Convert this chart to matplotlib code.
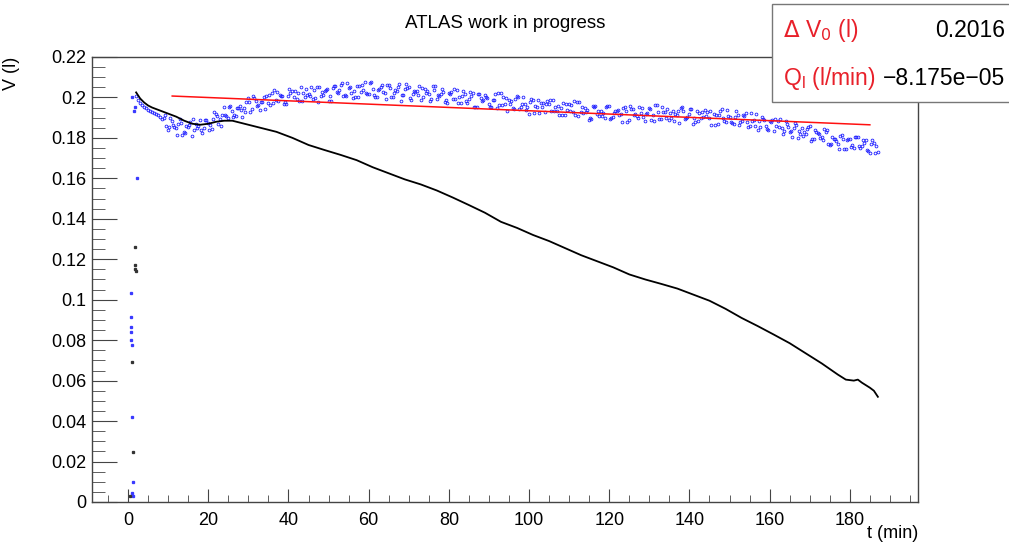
import numpy as np
import matplotlib.pyplot as plt
from matplotlib.patches import Rectangle
from matplotlib.ticker import MultipleLocator, FuncFormatter

# black curve (t in min, V in l)
black_t = [2, 3, 4, 5, 6, 8, 10, 12, 14, 16, 18, 20, 22, 24, 26, 28, 30, 33, 37, 41,
           45, 49, 53, 57, 61, 65, 69, 73, 77, 81, 85, 89, 93, 97, 101, 105, 109, 113,
           117, 121, 125, 129, 133, 137, 141, 145, 149, 153, 157, 161, 165, 169, 173,
           177, 179, 181, 182, 183, 185, 186, 187]
black_v = [0.2025, 0.1995, 0.1975, 0.1960, 0.1950, 0.1935, 0.1920, 0.1905, 0.1885,
           0.1870, 0.1865, 0.1870, 0.1880, 0.1885, 0.1885, 0.1875, 0.1865, 0.1850,
           0.1830, 0.1800, 0.1765, 0.1740, 0.1716, 0.1690, 0.1655, 0.1625, 0.1595,
           0.1570, 0.1540, 0.1505, 0.1468, 0.1430, 0.1385, 0.1355, 0.1320, 0.1290,
           0.1255, 0.1220, 0.1190, 0.1160, 0.1125, 0.1100, 0.1078, 0.1055, 0.1025,
           0.0995, 0.0955, 0.0910, 0.0870, 0.0828, 0.0785, 0.0735, 0.0685, 0.0630,
           0.0605, 0.0600, 0.0605, 0.0590, 0.0565, 0.0550, 0.0520]

# blue measurements, first smooth part
blue_early_t = [2.0, 2.5, 3.0, 3.5, 4.0, 4.5, 5.0, 5.5, 6.0, 6.5, 7.0, 7.5, 8.0, 8.5]
blue_early_v = [0.2005, 0.1985, 0.1972, 0.1962, 0.1953, 0.1946, 0.1940, 0.1934,
                0.1928, 0.1922, 0.1917, 0.1912, 0.1905, 0.1895]

# blue measurements, t = 9 ... 187 (1 min steps)
blue_a = [
    0.1897, 0.1840, 0.1885, 0.1847, 0.1893, 0.1829, 0.1855, 0.1809, 0.1871, 0.1888,
    0.1847, 0.1872, 0.1844, 0.1917, 0.1893, 0.1951, 0.1896, 0.1934, 0.1907, 0.1959,
    0.1950, 0.1998, 0.1941, 0.1981, 0.1936, 0.2001, 0.1973, 0.2020, 0.1987, 0.2014,
    0.1968, 0.2009, 0.2033, 0.1991, 0.2053, 0.2003, 0.2016, 0.1990, 0.2054, 0.2007,
    0.2031, 0.1981, 0.2046, 0.2027, 0.2060, 0.2012, 0.2048, 0.1998, 0.2059, 0.2029,
    0.2074, 0.2019, 0.2041, 0.2002, 0.2054, 0.2020, 0.2064, 0.2004, 0.2031, 0.1984,
    0.2043, 0.2053, 0.2015, 0.2033, 0.1987, 0.2044, 0.2019, 0.2058, 0.1994, 0.2017,
    0.1979, 0.2020, 0.1990, 0.2038, 0.1973, 0.2017, 0.1991, 0.2024, 0.1953, 0.1998,
    0.2012, 0.1968, 0.1985, 0.1949, 0.2022, 0.1969, 0.1989, 0.1949, 0.2005, 0.1951,
    0.1968, 0.1920, 0.1986, 0.1955, 0.1975, 0.1928, 0.1966, 0.1986, 0.1932, 0.1950,
    0.1913, 0.1967, 0.1930, 0.1977, 0.1930, 0.1949, 0.1888, 0.1957, 0.1916, 0.1931,
    0.1897, 0.1960, 0.1902, 0.1933, 0.1918, 0.1952, 0.1890, 0.1941, 0.1906, 0.1924,
    0.1884, 0.1946, 0.1912, 0.1962, 0.1895, 0.1926, 0.1888, 0.1931, 0.1912, 0.1947,
    0.1895, 0.1918, 0.1870, 0.1931, 0.1896, 0.1936, 0.1900, 0.1919, 0.1870, 0.1943,
    0.1881, 0.1903, 0.1871, 0.1913, 0.1882, 0.1925, 0.1861, 0.1888, 0.1838, 0.1904,
    0.1860, 0.1882, 0.1834, 0.1884, 0.1851, 0.1884, 0.1828, 0.1849, 0.1798, 0.1850,
    0.1817, 0.1859, 0.1794, 0.1824, 0.1803, 0.1827, 0.1766, 0.1796, 0.1772, 0.1814,
    0.1744, 0.1793, 0.1751, 0.1804, 0.1759, 0.1792, 0.1727, 0.1775, 0.1732]

# blue measurements, t = 9.25 ... 186.25 (1 min steps)
blue_c = [
    0.1911, 0.1854, 0.1865, 0.1816, 0.1873, 0.1823, 0.1863, 0.1891, 0.1848, 0.1838,
    0.1890, 0.1839, 0.1891, 0.1910, 0.1858, 0.1912, 0.1952, 0.1905, 0.1948, 0.1939,
    0.1926, 0.1977, 0.2008, 0.1959, 0.1977, 0.1945, 0.2010, 0.1974, 0.2028, 0.2006,
    0.1977, 0.2043, 0.2004, 0.2023, 0.1980, 0.2041, 0.2005, 0.2037, 0.1979, 0.2026,
    0.2035, 0.2005, 0.2058, 0.2023, 0.2070, 0.2005, 0.2052, 0.2034, 0.2001, 0.2060,
    0.2024, 0.2071, 0.2011, 0.2037, 0.2061, 0.1992, 0.2045, 0.2022, 0.2050, 0.2011,
    0.2067, 0.1995, 0.2032, 0.2010, 0.2049, 0.2023, 0.1983, 0.2036, 0.2010, 0.2044,
    0.1987, 0.2015, 0.2040, 0.1975, 0.2005, 0.1982, 0.2025, 0.1952, 0.2015, 0.1980,
    0.2001, 0.1953, 0.1986, 0.2020, 0.1961, 0.1998, 0.1969, 0.1944, 0.2004, 0.1967,
    0.1939, 0.1977, 0.1921, 0.1986, 0.1955, 0.1967, 0.1989, 0.1933, 0.1958, 0.1914,
    0.1970, 0.1933, 0.1982, 0.1910, 0.1952, 0.1928, 0.1897, 0.1954, 0.1935, 0.1907,
    0.1953, 0.1893, 0.1924, 0.1939, 0.1880, 0.1933, 0.1956, 0.1912, 0.1899, 0.1948,
    0.1917, 0.1942, 0.1884, 0.1928, 0.1955, 0.1900, 0.1921, 0.1884, 0.1931, 0.1954,
    0.1897, 0.1943, 0.1900, 0.1883, 0.1927, 0.1907, 0.1932, 0.1865, 0.1915, 0.1896,
    0.1936, 0.1881, 0.1905, 0.1862, 0.1915, 0.1877, 0.1925, 0.1859, 0.1882, 0.1892,
    0.1845, 0.1881, 0.1894, 0.1856, 0.1818, 0.1871, 0.1832, 0.1874, 0.1834, 0.1808,
    0.1843, 0.1786, 0.1841, 0.1817, 0.1790, 0.1838, 0.1770, 0.1793, 0.1746, 0.1796,
    0.1788, 0.1757, 0.1803, 0.1759, 0.1791, 0.1740, 0.1770, 0.1727]

# blue measurements, t = 9.5 ... 186.5 (1 min steps)
blue_b = [
    0.1857, 0.1899, 0.1852, 0.1871, 0.1812, 0.1859, 0.1878, 0.1839, 0.1857, 0.1826,
    0.1890, 0.1866, 0.1926, 0.1867, 0.1914, 0.1909, 0.1956, 0.1912, 0.1947, 0.1905,
    0.1976, 0.1928, 0.1998, 0.1962, 0.1979, 0.2009, 0.1965, 0.2035, 0.1981, 0.2006,
    0.1966, 0.2020, 0.2030, 0.1981, 0.2022, 0.2010, 0.2054, 0.1998, 0.2051, 0.2014,
    0.2040, 0.1984, 0.2055, 0.2035, 0.2008, 0.2069, 0.2023, 0.2004, 0.2055, 0.2037,
    0.2018, 0.2075, 0.2001, 0.2044, 0.2027, 0.2060, 0.2004, 0.2037, 0.2065, 0.2013,
    0.2047, 0.1986, 0.2027, 0.2055, 0.2003, 0.2034, 0.1991, 0.2058, 0.2006, 0.2028,
    0.1971, 0.2029, 0.1992, 0.2004, 0.2031, 0.1974, 0.2009, 0.1951, 0.2018, 0.1987,
    0.1995, 0.1954, 0.2018, 0.1964, 0.2001, 0.1933, 0.1980, 0.1990, 0.1943, 0.2004,
    0.1951, 0.1990, 0.1956, 0.1924, 0.1971, 0.1983, 0.1934, 0.1953, 0.1912, 0.1972,
    0.1940, 0.1961, 0.1912, 0.1979, 0.1922, 0.1940, 0.1894, 0.1958, 0.1907, 0.1925,
    0.1958, 0.1896, 0.1932, 0.1911, 0.1946, 0.1880, 0.1941, 0.1916, 0.1954, 0.1905,
    0.1925, 0.1887, 0.1961, 0.1895, 0.1926, 0.1944, 0.1898, 0.1916, 0.1875, 0.1931,
    0.1902, 0.1944, 0.1881, 0.1922, 0.1905, 0.1929, 0.1862, 0.1914, 0.1934, 0.1882,
    0.1907, 0.1872, 0.1933, 0.1880, 0.1907, 0.1853, 0.1885, 0.1920, 0.1856, 0.1887,
    0.1841, 0.1890, 0.1857, 0.1893, 0.1835, 0.1856, 0.1803, 0.1865, 0.1818, 0.1831,
    0.1853, 0.1794, 0.1828, 0.1800, 0.1844, 0.1769, 0.1804, 0.1787, 0.1810, 0.1745,
    0.1797, 0.1764, 0.1805, 0.1752, 0.1774, 0.1735, 0.1791, 0.1758]

# stray points at the start of the run
stray_blue_t = [1.0, 1.5, 1.6, 0.8, 0.6, 0.7, 0.6, 0.8, 0.9, 1.0, 1.1, 0.9, 1.2, 2.2]
stray_blue_v = [0.2000, 0.1935, 0.1955, 0.1033, 0.0915, 0.0865, 0.0840, 0.0800,
                0.0776, 0.0420, 0.0099, 0.0044, 0.0030, 0.1602]
stray_black_t = [1.6, 1.8, 2.0, 1.7, 1.0, 0.5, 1.2]
stray_black_v = [0.1170, 0.1150, 0.1140, 0.1261, 0.0692, 0.0030, 0.0247]

# linear fit shown in the box
fit_v0 = 0.2016
fit_q = -8.175e-05
fit_range = [11, 185]

plt.rcParams['font.family'] = ['Liberation Sans', 'DejaVu Sans']
fig = plt.figure(figsize=(10.09, 5.47), dpi=100)
ax = fig.add_axes([0.0912, 0.0823, 0.8186, 0.8135])

blue = '#2020ff'
mk = dict(ls='none', marker='o', ms=2.0, mfc='none', mec=blue, mew=0.6)
ax.plot(blue_early_t, blue_early_v, **mk)
ax.plot(np.arange(9, 188), blue_a, **mk)
ax.plot(np.arange(9.25, 187), blue_c, **mk)
ax.plot(np.arange(9.5, 187), blue_b, **mk)
ax.plot(stray_blue_t, stray_blue_v, 's', ms=1.4, color='#3a3aff', lw=0)
ax.plot(stray_black_t, stray_black_v, 's', ms=1.4, color='#333333', lw=0)
ax.plot(black_t, black_v, color='black', lw=1.3)

fit_t = np.array(fit_range)
ax.plot(fit_t, fit_v0 + fit_q * fit_t, color='#ff1010', lw=1.1)

ax.set_xlim(-9, 197)
ax.set_ylim(0, 0.22)
ax.xaxis.set_major_locator(MultipleLocator(20))
ax.xaxis.set_minor_locator(MultipleLocator(5))
ax.yaxis.set_major_locator(MultipleLocator(0.02))
ax.yaxis.set_minor_locator(MultipleLocator(0.005))
ax.yaxis.set_major_formatter(FuncFormatter(lambda v, p: '%g' % round(v, 3)))
ax.tick_params(axis='both', which='both', direction='in', color='#444444',
               labelsize=13, top=False, right=False)
ax.tick_params(axis='y', which='major', length=18, pad=4)
ax.tick_params(axis='y', which='minor', length=9)
ax.tick_params(axis='x', which='major', length=9.5, pad=7)
ax.tick_params(axis='x', which='minor', length=4.8)
for s in ax.spines.values():
    s.set_color('#444444')
    s.set_linewidth(1.0)

ax.set_title('ATLAS work in progress', fontsize=13.5, pad=21)
ax.set_ylabel('V (l)', fontsize=13, loc='top')
ax.yaxis.set_label_coords(-0.087, 1.0)
ax.set_xlabel('t (min)', fontsize=13, loc='right')
ax.xaxis.set_label_coords(1.0, -0.052)

# stats box
fig.patches.append(Rectangle((0.765, 0.8135), 0.25, 0.18, transform=fig.transFigure,
                             facecolor='white', edgecolor='#777777', lw=1.0, zorder=5))
red = '#e8202a'
fig.text(0.776, 0.945, r'$\Delta$ V$_0$ (l)', color=red, fontsize=16.5, va='center', zorder=6)
fig.text(0.996, 0.945, '0.2016', color='black', fontsize=16.5, va='center', ha='right', zorder=6)
fig.text(0.776, 0.857, 'Q$_\\mathregular{l}$ (l/min)', color=red, fontsize=16.5, va='center',
         zorder=6)
fig.text(0.996, 0.857, '\u22128.175e\u221205', color='black', fontsize=16.5, va='center',
         ha='right', zorder=6)

fig.savefig('out.png', dpi=100)
